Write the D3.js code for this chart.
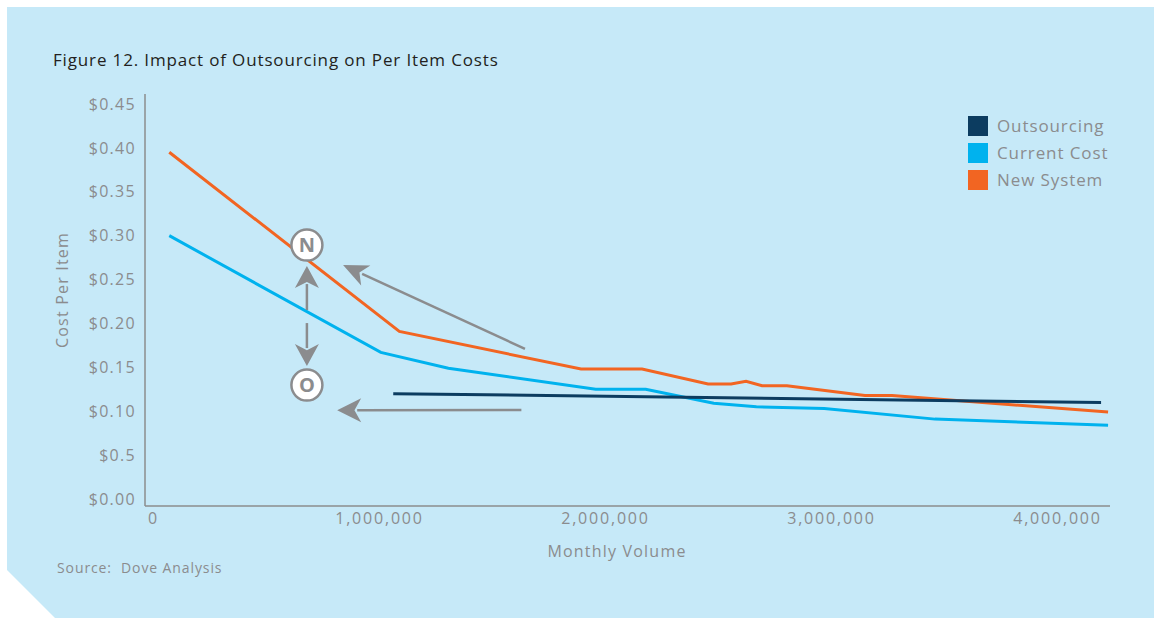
<!DOCTYPE html>
<html>
<head>
<meta charset="utf-8">
<script src="https://cdn.jsdelivr.net/npm/d3@7"></script>
<style>
  html, body { margin: 0; padding: 0; background: #ffffff; }
  svg { display: block; font-family: "Open Sans", "Noto Sans", sans-serif; }
</style>
</head>
<body>
<svg id="chart" width="1154" height="618"></svg>
<script>
// Monthly volume (items) and cost per item ($) for each scenario
const outsourcingVolume = [1063000, 4195000];
const outsourcingCost   = [0.120, 0.110];

const currentVolume = [72000, 1008000, 1307000, 1959000, 2180000, 2481000, 2670000, 2970000, 3460000, 4226000];
const currentCost   = [0.300, 0.167, 0.149, 0.125, 0.125, 0.109, 0.105, 0.103, 0.091, 0.084];

const newSystemVolume = [72000, 1090000, 1894000, 2164000, 2456000, 2558000, 2624000, 2695000, 2805000, 3150000, 3270000, 4226000];
const newSystemCost   = [0.395, 0.191, 0.148, 0.148, 0.131, 0.131, 0.134, 0.129, 0.129, 0.118, 0.118, 0.099];

const yTickValues = [0, 0.05, 0.10, 0.15, 0.20, 0.25, 0.30, 0.35, 0.40, 0.45];
const yTickLabels = ["$0.00", "$0.5", "$0.10", "$0.15", "$0.20", "$0.25", "$0.30", "$0.35", "$0.40", "$0.45"];
const xTickValues = [0, 1000000, 2000000, 3000000, 4000000];
const xTickLabels = ["0", "1,000,000", "2,000,000", "3,000,000", "4,000,000"];

const seriesNames  = ["Outsourcing", "Current Cost", "New System"];
const seriesColors = ["#0c3c60", "#00b2ee", "#f26522"];

// Callout markers: letter, volume, cost
const markerLetters = ["N", "O"];
const markerVolume  = [681000, 681000];
const markerCost    = [0.2893, 0.1298];

const svg = d3.select("#chart");
const gray = "#8b8c8e";

// Panel with clipped lower-left corner
svg.append("path")
  .attr("d", "M7,7 H1154 V618 H55 L7,570 Z")
  .attr("fill", "#c6e9f8");

const x = d3.scaleLinear().domain([0, 4000000]).range([153, 1057]);
const y = d3.scaleLinear().domain([0, 0.45]).range([499, 104]);

// Title
svg.append("text")
  .attr("x", 53).attr("y", 66)
  .attr("font-size", 17).attr("fill", "#231f20")
  .attr("letter-spacing", 0.85)
  .text("Figure 12. Impact of Outsourcing on Per Item Costs");

// Axis lines
const axisLeft = 145, axisBottom = 506, axisRight = 1110, axisTop = 94;
svg.append("line")
  .attr("x1", axisLeft).attr("x2", axisLeft)
  .attr("y1", axisTop).attr("y2", axisBottom)
  .attr("stroke", gray).attr("stroke-width", 1.5);
svg.append("line")
  .attr("x1", axisLeft).attr("x2", axisRight)
  .attr("y1", axisBottom).attr("y2", axisBottom)
  .attr("stroke", gray).attr("stroke-width", 1.5);

// Y tick labels via d3 axis
const yAxis = d3.axisLeft(y)
  .tickValues(yTickValues)
  .tickFormat((d, i) => yTickLabels[i])
  .tickSize(0).tickPadding(0);
const gy = svg.append("g").attr("transform", "translate(136,0)").call(yAxis);
gy.select(".domain").remove();
gy.selectAll("text")
  .attr("font-size", 16).attr("fill", gray)
  .attr("letter-spacing", 1.3)
  .attr("font-family", "'Open Sans', sans-serif");

// X tick labels
const xAxis = d3.axisBottom(x)
  .tickValues(xTickValues)
  .tickFormat((d, i) => xTickLabels[i])
  .tickSize(0).tickPadding(0);
const gx = svg.append("g").attr("transform", "translate(0,513)").call(xAxis);
gx.select(".domain").remove();
gx.selectAll("text")
  .attr("font-size", 16).attr("fill", gray)
  .attr("letter-spacing", 1.8)
  .attr("font-family", "'Open Sans', sans-serif");

// Axis titles
svg.append("text")
  .attr("x", 617).attr("y", 557)
  .attr("text-anchor", "middle")
  .attr("font-size", 16).attr("fill", gray)
  .attr("letter-spacing", 1.2)
  .text("Monthly Volume");
svg.append("text")
  .attr("transform", "translate(68,290) rotate(-90)")
  .attr("text-anchor", "middle")
  .attr("font-size", 16).attr("fill", gray)
  .attr("letter-spacing", 1.2)
  .text("Cost Per Item");

// Source note
svg.append("text")
  .attr("x", 57).attr("y", 573)
  .attr("font-size", 14).attr("fill", gray)
  .attr("letter-spacing", 0.9)
  .attr("xml:space", "preserve")
  .text("Source:  Dove Analysis");

// Series lines
const line = d3.line().x(d => x(d[0])).y(d => y(d[1]));
const seriesData = [
  d3.zip(outsourcingVolume, outsourcingCost),
  d3.zip(currentVolume, currentCost),
  d3.zip(newSystemVolume, newSystemCost)
];
// Current and new system first, outsourcing on top
[1, 2, 0].forEach(i => {
  svg.append("path")
    .datum(seriesData[i])
    .attr("fill", "none")
    .attr("stroke", seriesColors[i])
    .attr("stroke-width", 3)
    .attr("stroke-linejoin", "miter")
    .attr("d", line);
});

// Legend
const legend = svg.append("g").attr("transform", "translate(968,116)");
seriesNames.forEach((name, i) => {
  const g = legend.append("g").attr("transform", `translate(0,${i * 27})`);
  g.append("rect").attr("width", 20).attr("height", 20).attr("fill", seriesColors[i]);
  g.append("text")
    .attr("x", 29).attr("y", 16)
    .attr("font-size", 17).attr("fill", gray)
    .attr("letter-spacing", 0.9)
    .text(name);
});

// Arrow helper (notched filled head)
function arrow(x1, y1, x2, y2, headLen, headHalf) {
  const ang = Math.atan2(y2 - y1, x2 - x1);
  const bx = x2 - headLen * Math.cos(ang), by = y2 - headLen * Math.sin(ang);
  svg.append("line")
    .attr("x1", x1).attr("y1", y1).attr("x2", bx + 4 * Math.cos(ang)).attr("y2", by + 4 * Math.sin(ang))
    .attr("stroke", gray).attr("stroke-width", 2.5);
  const px = -Math.sin(ang), py = Math.cos(ang);
  const nx = x2 - headLen * 0.72 * Math.cos(ang), ny = y2 - headLen * 0.72 * Math.sin(ang);
  svg.append("path")
    .attr("d", `M${x2},${y2} L${bx + px * headHalf},${by + py * headHalf} L${nx},${ny} L${bx - px * headHalf},${by - py * headHalf} Z`)
    .attr("fill", gray);
}

const mx = x(markerVolume[0]);
const nY = y(markerCost[0]), oY = y(markerCost[1]);
// vertical pair between markers
arrow(mx, nY + 65, mx, nY + 21, 22, 12);
arrow(mx, oY - 62, mx, oY - 19, 22, 12);
// pointers toward the markers
arrow(x(1646000), y(0.171), x(841000), y(0.2665), 25, 11);
arrow(x(1630000), y(0.1015), x(815000), y(0.101), 24, 12);

// Markers
markerLetters.forEach((letter, i) => {
  const cx = x(markerVolume[i]), cy = y(markerCost[i]);
  svg.append("circle")
    .attr("cx", cx).attr("cy", cy).attr("r", 15.5)
    .attr("fill", "#ffffff").attr("stroke", gray).attr("stroke-width", 2.5);
  svg.append("text")
    .attr("x", cx).attr("y", cy + 7)
    .attr("text-anchor", "middle")
    .attr("font-size", 20).attr("font-weight", 700)
    .attr("font-family", "'Open Sans', sans-serif")
    .attr("fill", gray)
    .text(letter);
});
</script>
</body>
</html>
